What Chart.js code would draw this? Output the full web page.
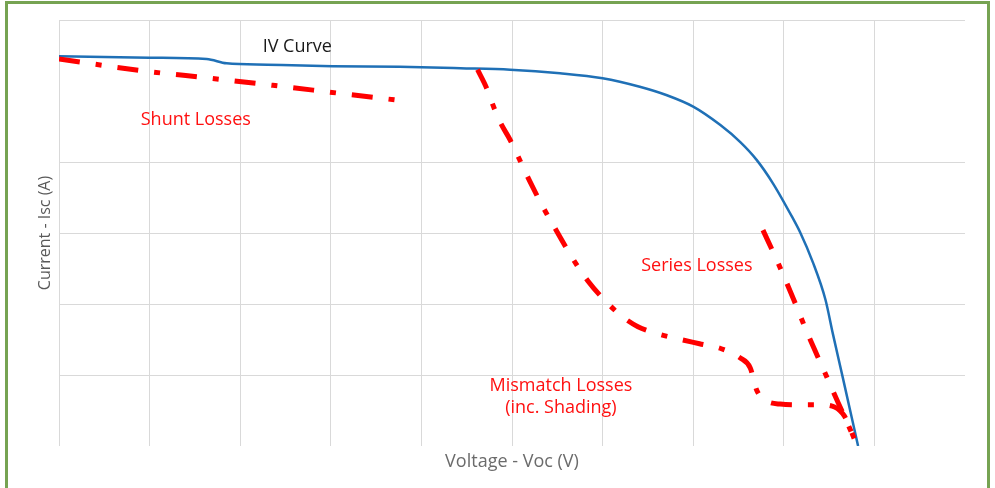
<!DOCTYPE html>
<html>
<head>
<meta charset="utf-8">
<script src="https://cdn.jsdelivr.net/npm/chart.js@4.4.1/dist/chart.umd.min.js"></script>
<style>
  body { margin: 0; background: #ffffff; }
  #frame { position: absolute; left: 5px; top: 1px; width: 985px; height: 520px; border: 3px solid #76a352; box-sizing: border-box; }
  #box { position: absolute; left: 0; top: 0; width: 995px; height: 488px; }
</style>
</head>
<body>
<div id="frame"></div>
<div id="box"><canvas id="ivChart"></canvas></div>
<script>
// IV curve (voltage, current)
var ivVoltage = [0, 1.0, 1.63, 1.85, 2.3, 3.02, 3.76, 4.43, 4.98, 5.53, 6.0, 6.41, 6.71, 7.0, 7.3, 7.52, 7.7, 7.88, 8.09, 8.18, 8.32, 8.46, 8.54, 8.65, 8.82];
var ivCurrent = [5.49, 5.47, 5.45, 5.39, 5.37, 5.35, 5.34, 5.32, 5.3, 5.25, 5.18, 5.06, 4.94, 4.78, 4.52, 4.28, 4.03, 3.7, 3.23, 3.01, 2.59, 2.06, 1.59, 0.97, 0];

// Shunt losses
var shuntVoltage = [0, 0.95, 1.67, 2.36, 3.08, 3.74];
var shuntCurrent = [5.45, 5.28, 5.18, 5.08, 4.97, 4.87];

// Mismatch losses (inc. shading)
var mismatchVoltage = [4.62, 4.72, 4.79, 4.87, 4.98, 5.07, 5.2, 5.34, 5.5, 5.66, 5.84, 6.04, 6.21, 6.39, 6.61, 6.83, 7.07, 7.31, 7.52, 7.63, 7.7, 7.79, 7.96, 8.18, 8.4, 8.56, 8.67, 8.73, 8.81];
var mismatchCurrent = [5.3, 5.04, 4.8, 4.56, 4.31, 4.07, 3.72, 3.37, 3.01, 2.66, 2.32, 2.03, 1.83, 1.68, 1.58, 1.51, 1.44, 1.37, 1.24, 1.1, 0.79, 0.65, 0.59, 0.58, 0.58, 0.55, 0.42, 0.25, 0];

// Series losses
var seriesVoltage = [7.77, 7.95, 8.11, 8.26, 8.43, 8.6, 8.71, 8.81];
var seriesCurrent = [3.04, 2.54, 2.06, 1.59, 1.1, 0.61, 0.3, 0];

// axis ticks (only used for the grid)
var xTicks = [0, 1, 2, 3, 4, 5, 6, 7, 8, 9, 10];
var yTicks = [0, 1, 2, 3, 4, 5, 6];
var hiddenYGrid = [0, 5];
var hiddenXGrid = [10];

// text labels on the plot
var labelTexts = ["IV Curve", "Shunt Losses", "Series Losses", "Mismatch Losses", "(inc. Shading)"];
var labelX = [2.63, 1.51, 7.04, 5.54, 5.54];
var labelY = [5.62, 4.59, 2.54, 0.85, 0.54];
var labelColors = ["#1a1a1a", "#ff1010", "#ff1010", "#ff1010", "#ff1010"];

function toPoints(xs, ys) {
  var pts = [];
  for (var i = 0; i < xs.length; i++) {
    pts.push({ x: xs[i], y: ys[i] });
  }
  return pts;
}

function redLine(label, xs, ys) {
  return {
    label: label,
    data: toPoints(xs, ys),
    showLine: true,
    borderColor: "#ff0000",
    borderWidth: 5,
    borderDash: [21, 16, 6, 16],
    borderCapStyle: "butt",
    cubicInterpolationMode: "monotone",
    pointRadius: 0
  };
}

// draws the text labels at data positions
var labelPlugin = {
  id: "plotLabels",
  afterDatasetsDraw: function(chart) {
    var ctx = chart.ctx;
    var xs = chart.scales.x;
    var ys = chart.scales.y;
    ctx.save();
    ctx.font = "18px 'Open Sans'";
    ctx.textAlign = "center";
    ctx.textBaseline = "middle";
    for (var i = 0; i < labelTexts.length; i++) {
      ctx.fillStyle = labelColors[i];
      ctx.fillText(labelTexts[i], xs.getPixelForValue(labelX[i]), ys.getPixelForValue(labelY[i]));
    }
    ctx.restore();
  }
};

var ctx = document.getElementById("ivChart").getContext("2d");
var chart = new Chart(ctx, {
  type: "scatter",
  data: {
    datasets: [
      redLine("Shunt Losses", shuntVoltage, shuntCurrent),
      redLine("Mismatch Losses", mismatchVoltage, mismatchCurrent),
      redLine("Series Losses", seriesVoltage, seriesCurrent),
      {
        label: "IV Curve",
        data: toPoints(ivVoltage, ivCurrent),
        showLine: true,
        borderColor: "#1f70b6",
        borderWidth: 2.5,
        cubicInterpolationMode: "monotone",
        pointRadius: 0
      }
    ]
  },
  options: {
    responsive: true,
    maintainAspectRatio: false,
    animation: false,
    layout: { padding: { left: 0, right: 30, top: 20, bottom: 0 } },
    plugins: {
      legend: { display: false },
      tooltip: { enabled: false }
    },
    scales: {
      x: {
        type: "linear",
        min: xTicks[0],
        max: xTicks[xTicks.length - 1],
        afterBuildTicks: function(axis) {
          axis.ticks = xTicks.map(function(v) { return { value: v }; });
        },
        ticks: { display: false },
        border: { display: false },
        grid: {
          drawTicks: false,
          lineWidth: 1,
          color: function(c) {
            return hiddenXGrid.indexOf(c.tick.value) >= 0 ? "rgba(0,0,0,0)" : "#d9d9d9";
          }
        },
        title: {
          display: true,
          text: "Voltage - Voc (V)",
          color: "#6b6b6b",
          font: { family: "'Open Sans'", size: 18, lineHeight: 1.2 },
          padding: { top: 5.2, bottom: 15.2 }
        }
      },
      y: {
        type: "linear",
        min: yTicks[0],
        max: yTicks[yTicks.length - 1],
        afterBuildTicks: function(axis) {
          axis.ticks = yTicks.map(function(v) { return { value: v }; });
        },
        ticks: { display: false },
        border: { display: false },
        grid: {
          drawTicks: false,
          lineWidth: 1,
          color: function(c) {
            return hiddenYGrid.indexOf(c.tick.value) >= 0 ? "rgba(0,0,0,0)" : "#d9d9d9";
          }
        },
        title: {
          display: true,
          text: "Current - Isc (A)",
          color: "#595959",
          font: { family: "'Open Sans'", size: 16, lineHeight: 1.2 },
          padding: { top: 35.4, bottom: 4.4 }
        }
      }
    }
  },
  plugins: [labelPlugin]
});
</script>
</body>
</html>
